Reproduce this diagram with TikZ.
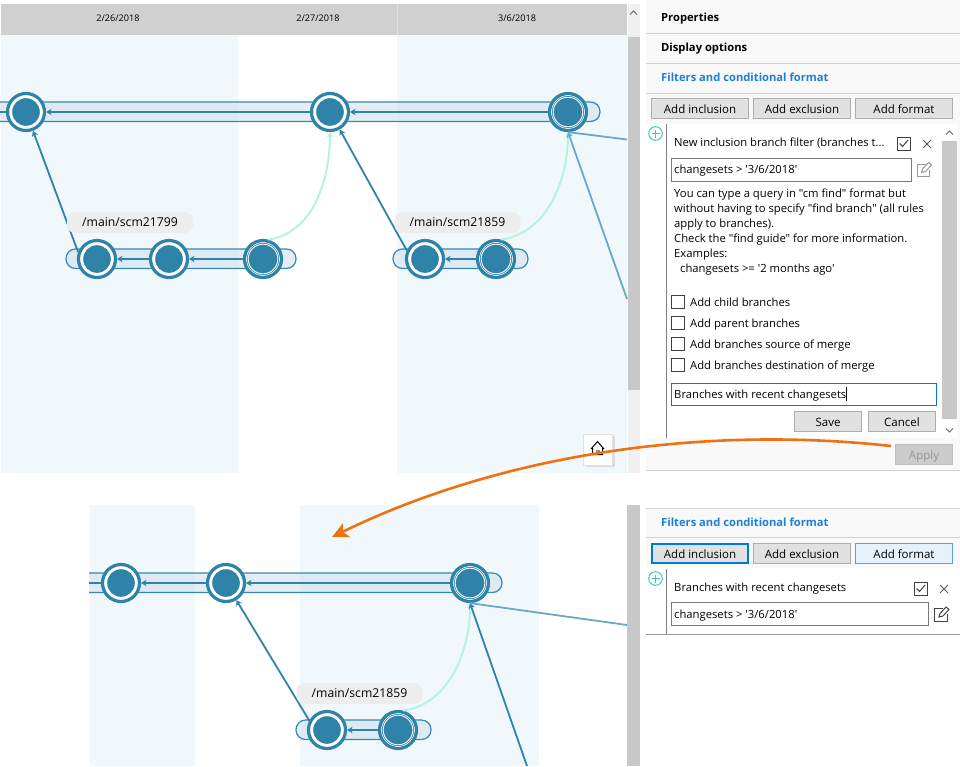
\documentclass[tikz,border=0pt]{standalone}
\usepackage{fontspec}
\setmainfont{Open Sans}[Ligatures=TeXOff]
\usetikzlibrary{arrows.meta}
\definecolor{ct}{HTML}{2F83A9}
\definecolor{ctl}{HTML}{6AA9C4}
\definecolor{mint}{HTML}{B8F0E4}
\definecolor{band}{HTML}{F1F8FB}
\definecolor{barf}{HTML}{D3E4EF}
\definecolor{hdr}{HTML}{D0D0D0}
\definecolor{sb}{HTML}{C8C8C8}
\definecolor{pan}{HTML}{F9F9F9}
\definecolor{sep}{HTML}{D2D2D2}
\definecolor{btnb}{HTML}{ADADAD}
\definecolor{btnf}{HTML}{E1E1E1}
\definecolor{blu}{HTML}{0078D7}
\definecolor{head}{HTML}{1E7FD8}
\definecolor{org}{HTML}{EE7211}
\definecolor{plus}{HTML}{3CCBB0}
\definecolor{fld}{HTML}{7A7A7A}
\definecolor{fmtf}{HTML}{E5F1FB}
\definecolor{fmtb}{HTML}{5F9FD6}
\pgfdeclarelayer{bg}
\pgfsetlayers{bg,main}
\tikzset{
  x=1pt,y=-1pt,
  commit/.style={circle,draw=ct,line width=3.2pt,fill=white,minimum size=37pt,inner sep=0pt,
    path picture={\fill[ct] (path picture bounding box.center) circle[radius=13.8pt];}},
  headc/.style={circle,draw=ct,line width=3.2pt,fill=ct,minimum size=37pt,inner sep=0pt,
    path picture={\draw[white,line width=0.9pt] (path picture bounding box.center) circle[radius=14.8pt];
      \draw[white,line width=0.9pt] (path picture bounding box.center) circle[radius=16.6pt];}},
  barshape/.style={fill=barf,fill opacity=0.65,draw=ct,line width=1.2pt,draw opacity=0.95},
  cline/.style={draw=ct,line width=2pt,-{Stealth[length=5.5pt,width=6.5pt]}},
  mline/.style={draw=ct,line width=1.8pt,-{Stealth[length=5.5pt,width=6.5pt]}},
  lline/.style={draw=ctl,line width=1.8pt,-{Stealth[length=5.5pt,width=6.5pt]}},
  mintl/.style={draw=mint,line width=2pt,-{Stealth[length=5.5pt,width=6.5pt]}},
  blabel/.style={rounded corners=8pt,fill=black!7,minimum width=126pt,minimum height=21pt,inner sep=0pt,font=\fontsize{12.2}{14}\selectfont},
  datel/.style={font=\fontsize{9.1}{11}\selectfont,inner sep=0pt},
  ui/.style={anchor=base west,inner sep=0pt,font=\fontsize{11.25}{14}\selectfont},
  bold/.style={anchor=base west,inner sep=0pt,font=\fontsize{11.2}{14}\selectfont\bfseries},
  btn/.style={draw=btnb,line width=1pt,fill=btnf,minimum height=20pt,inner sep=0pt,text height=9pt,text depth=0pt,font=\fontsize{11.5}{14}\selectfont},
  fieldb/.style={draw=fld,line width=1pt,fill=white},
  cb/.style={draw=black!75,line width=1pt,fill=white},
}
\newcommand{\plusicon}[2]{\begin{scope}[shift={(#1,#2)}]
  \draw[plus,line width=1pt] (0,0) circle[radius=6.8pt];
  \draw[plus,line width=1pt] (-4,0) -- (4,0) (0,-4) -- (0,4);
\end{scope}}
\newcommand{\checkicon}[3]{\begin{scope}[shift={(#1,#2)}]
  \draw[cb] (-6.5,-6.5) rectangle (6.5,6.5);
  \draw[#3,line width=1pt] (-3.8,0) -- (-1,3) -- (4.5,-3.5);
\end{scope}}
\newcommand{\xicon}[2]{\begin{scope}[shift={(#1,#2)}]
  \draw[black!65,line width=1pt] (-4,-4) -- (4,4) (-4,4) -- (4,-4);
\end{scope}}
\newcommand{\editicon}[3]{\begin{scope}[shift={(#1,#2)}]
  \draw[#3,line width=1pt] (2,-5.5) -- (-6.5,-5.5) -- (-6.5,7) -- (6,7) -- (6,0);
  \draw[#3,line width=1pt] (-2,3) -- (-1,-0.5) -- (5,-7) -- (8,-4.5) -- (2,2) -- cycle;
\end{scope}}
\begin{document}
\begin{tikzpicture}
\useasboundingbox (0,0) rectangle (960,766);
\begin{pgfonlayer}{bg}
  \fill[white] (0,0) rectangle (960,766);
  % upper graph backdrop
  \fill[band] (1,35) rectangle (238,473);
  \fill[band] (397,35) rectangle (627,473);
  \fill[hdr] (1,4) rectangle (627,35);
  \draw[black!12,line width=0.6pt] (397,4) -- (397,35);
  \fill[black!6] (628,4) rectangle (640,473);
  \fill[sb] (628,37) rectangle (640,390);
  \draw[black!60,line width=1pt] (630,14.5) -- (633.5,11) -- (637,14.5);
  % lower graph backdrop
  \fill[band] (90,505) rectangle (195,766);
  \fill[band] (300,505) rectangle (539,766);
  \fill[sb] (627,505) rectangle (640,766);
  % bars
  \path[barshape,rounded corners=9.5pt] (-12,102) rectangle (600,121.5);
  \path[barshape,rounded corners=9.5pt] (66,249) rectangle (296,268.5);
  \path[barshape,rounded corners=9.5pt] (393,249) rectangle (528,268.5);
  \path[barshape,rounded corners=9.5pt] (78,573) rectangle (502,592.5);
  \fill[white] (70,570) rectangle (89,595);
  \path[barshape,rounded corners=9.5pt] (296,720) rectangle (431,739.5);
  % panels
  \fill[pan] (646,0) rectangle (960,471);
  \fill[white] (646,124) rectangle (957,438);
  \fill[pan] (646,508) rectangle (960,568);
  \fill[white] (646,568) rectangle (960,766);
\end{pgfonlayer}

% date headers
\node[datel] (d1) at (118,18) {2/26/2018};
\node[datel] (d2) at (318,18) {2/27/2018};
\node[datel] (d3) at (517,18) {3/6/2018};

% upper graph
\node[commit] (a1) at (26,112) {};
\node[commit] (a2) at (330,112) {};
\node[headc]  (a3) at (568,112) {};
\node[commit] (b1) at (97,259) {};
\node[commit] (b2) at (169,259) {};
\node[headc]  (b3) at (263,259) {};
\node[commit] (c1) at (425,259) {};
\node[headc]  (c2) at (496,259) {};
\coordinate (lf) at (0,112);
\coordinate (r1) at (627,139.5);
\coordinate (r2) at (627,299);
\draw[draw=ct,line width=2pt] (a1) -- (lf);
\draw[cline] (a2) -- (a1);
\draw[cline] (a3) -- (a2);
\draw[cline] (b2) -- (b1);
\draw[cline] (b3) -- (b2);
\draw[cline] (c2) -- (c1);
\draw[mline] (b1.160) -- (a1);
\draw[mline] (c1.155) -- (a2);
\draw[mintl] (b3.75) to[out=8,in=-90,looseness=0.95] (a2.south);
\draw[mintl] (c2.75) to[out=8,in=-90,looseness=0.95] (a3.south);
\draw[lline] (r2) -- (a3.south);
\draw[draw=ctl,line width=1.8pt] (a3.south) -- (r1);
\node[blabel] (lb1) at (130,222.5) {/main/scm21799};
\node[blabel] (lb2) at (457.5,222.5) {/main/scm21859};

% home button
\fill[black!14] (586,436) rectangle (615,467);
\node[draw=black!12,line width=1pt,fill=white,minimum width=29pt,minimum height=31pt,inner sep=0pt] (home) at (598,449.5) {};
\draw[black,line width=1pt] (591,449) -- (597.5,441.5) -- (604,449) (592.5,448) -- (592.5,454.5) -- (602.5,454.5) -- (602.5,448);
\fill[black!45] (595.5,450) rectangle (599.5,454);

% lower graph
\node[commit] (e1) at (121,583) {};
\node[commit] (e2) at (226,583) {};
\node[headc]  (e3) at (470,583) {};
\node[commit] (f1) at (327,730) {};
\node[headc]  (f2) at (398,730) {};
\coordinate (lf2) at (89,583);
\coordinate (r3) at (627,625);
\coordinate (r4) at (527,766);
\draw[draw=ct,line width=2pt] (e1) -- (lf2);
\draw[cline] (e2) -- (e1);
\draw[cline] (e3) -- (e2);
\draw[cline] (f2) -- (f1);
\draw[mline] (f1.152) -- (e2);
\draw[mintl] (f2.75) to[out=8,in=-90,looseness=0.95] (e3.south);
\draw[mline] (r4) -- (e3.south);
\draw[draw=ctl,line width=1.8pt] (e3.south) -- (r3);
\node[blabel] (lb3) at (359.5,693.5) {/main/scm21859};

% upper panel
\draw[sep,line width=1pt] (646,33) -- (960,33) (646,63) -- (960,63) (646,93) -- (960,93) (646,470) -- (960,470);
\node[bold] (p1) at (661,21) {Properties};
\node[bold] (p2) at (661,51) {Display options};
\node[bold,text=head] (p3) at (661,81) {Filters and conditional format};
\node[btn,minimum width=97pt] (bi) at (700,108.5) {Add inclusion};
\node[btn,minimum width=97pt] (be) at (802,108.5) {Add exclusion};
\node[btn,minimum width=97pt] (bf) at (904,108.5) {Add format};
\plusicon{655.5}{133.5}
\draw[black!50,line width=1pt] (666,124) -- (666,438);
\fill[sb] (942,141) rectangle (957,419);
\draw[black!60,line width=1pt] (946,134.5) -- (949.5,131) -- (953,134.5);
\draw[black!60,line width=1pt] (946,428.5) -- (949.5,432) -- (953,428.5);
\node[ui] (t0) at (674,146) {New inclusion branch filter (branches t...};
\checkicon{903.5}{143.5}{black!75}
\xicon{927}{144}
\node[fieldb,minimum width=240pt,minimum height=23pt,inner sep=0pt] (f0) at (791,169.5) {};
\node[ui] (t1) at (674,173.5) {changesets > '3/6/2018'};
\editicon{923.5}{169.5}{black!40}
\node[ui] (h1) at (674,197) {You can type a query in "cm find" format but};
\node[ui] (h2) at (674,212) {without having to specify "find branch" (all rules};
\node[ui] (h3) at (674,227) {apply to branches).};
\node[ui] (h4) at (674,242) {Check the "find guide" for more information.};
\node[ui] (h5) at (674,257) {Examples:};
\node[ui] (h6) at (680,272) {changesets >= '2 months ago'};
\checkicon{677.5}{301.5}{white}
\checkicon{677.5}{322.5}{white}
\checkicon{677.5}{343.5}{white}
\checkicon{677.5}{364.5}{white}
\node[ui] (o1) at (690,306) {Add child branches};
\node[ui] (o2) at (690,327) {Add parent branches};
\node[ui] (o3) at (690,348) {Add branches source of merge};
\node[ui] (o4) at (690,369) {Add branches destination of merge};
\node[draw=blu,line width=1pt,fill=white,minimum width=265pt,minimum height=21.5pt,inner sep=0pt] (in) at (803.5,394.5) {};
\node[ui] (t2) at (674,398.5) {Branches with recent changesets};
\draw[black,line width=0.8pt] (846.5,387) -- (846.5,401);
\node[btn,minimum width=67pt] (sv) at (828,421.5) {Save};
\node[btn,minimum width=67pt] (cn) at (902,421.5) {Cancel};
\node[btn,draw=black!25,fill=black!20,text=black!42,minimum width=57pt] (ap) at (924,454.5) {Apply};

% lower panel
\draw[sep,line width=1pt] (646,508) -- (960,508) (646,537) -- (960,537);
\draw[black!40,line width=1pt] (646,634) -- (960,634);
\node[bold,text=head] (p4) at (661,526) {Filters and conditional format};
\node[btn,draw=blu,line width=1.8pt,minimum width=96pt,minimum height=19pt] (bi2) at (700,553.5) {Add inclusion};
\node[btn,minimum width=97pt] (be2) at (802,553.5) {Add exclusion};
\node[btn,draw=fmtb,fill=fmtf,minimum width=97pt] (bf2) at (904,553.5) {Add format};
\plusicon{655.5}{578.5}
\draw[black!50,line width=1pt] (666,569) -- (666,634);
\node[ui] (t3) at (674,591) {Branches with recent changesets};
\checkicon{920.5}{588.5}{black!75}
\xicon{944}{589}
\node[fieldb,minimum width=257pt,minimum height=22.5pt,inner sep=0pt] (f3) at (799.5,614) {};
\node[ui] (t4) at (674,618) {changesets > '3/6/2018'};
\editicon{941}{614}{black!75}

% orange annotation
\coordinate (oa) at (891,446);
\coordinate (ob) at (332,537);
\draw[org,line width=2.6pt,-{Stealth[length=16pt,width=15pt,inset=4pt]}] (oa) .. controls (700,425) and (500,455) .. (ob);
\end{tikzpicture}
\end{document}
